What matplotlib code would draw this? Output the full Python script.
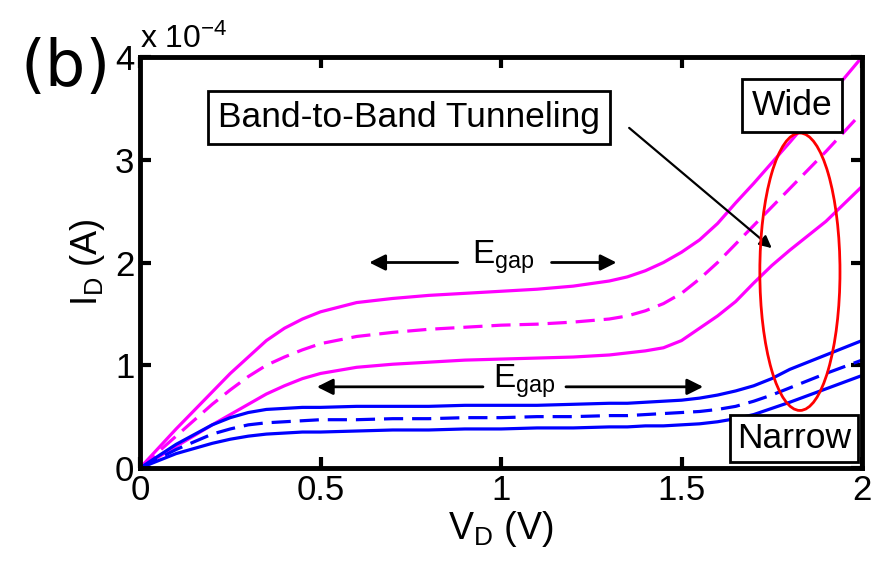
import matplotlib
matplotlib.use('Agg')
import matplotlib.pyplot as plt
from matplotlib import font_manager
from matplotlib.patches import Ellipse

# drain voltage V_D in volts; currents in units of 1e-4 A
vd = [0.0, 0.1, 0.2, 0.25, 0.3, 0.35, 0.4, 0.45, 0.5, 0.6, 0.7, 0.8, 0.9,
      1.0, 1.1, 1.2, 1.3, 1.35, 1.4, 1.45, 1.5, 1.55, 1.6, 1.65, 1.7,
      1.75, 1.8, 1.9, 2.0]

# wide ribbon (magenta)
wide_hi = [0, 0.38, 0.74, 0.92, 1.08, 1.24, 1.36, 1.45, 1.52, 1.61, 1.65,
           1.68, 1.70, 1.72, 1.74, 1.77, 1.82, 1.86, 1.92, 2.00, 2.10, 2.22,
           2.38, 2.58, 2.77, 2.97, 3.17, 3.58, 4.00]
wide_mid = [0, 0.31, 0.62, 0.76, 0.89, 1.00, 1.08, 1.15, 1.21, 1.28, 1.32,
            1.35, 1.37, 1.39, 1.40, 1.42, 1.45, 1.48, 1.53, 1.60, 1.70, 1.84,
            2.00, 2.18, 2.36, 2.54, 2.72, 3.08, 3.46]
wide_lo = [0, 0.21, 0.42, 0.52, 0.62, 0.72, 0.80, 0.87, 0.92, 0.98, 1.01,
           1.03, 1.05, 1.06, 1.07, 1.08, 1.10, 1.12, 1.14, 1.17, 1.24, 1.36,
           1.48, 1.62, 1.80, 1.97, 2.12, 2.40, 2.74]

# narrow ribbon (blue)
narrow_hi = [0, 0.23, 0.42, 0.49, 0.54, 0.57, 0.58, 0.59, 0.59, 0.60, 0.60,
             0.60, 0.61, 0.61, 0.61, 0.62, 0.63, 0.63, 0.64, 0.65, 0.66, 0.68,
             0.71, 0.75, 0.80, 0.87, 0.96, 1.10, 1.24]
narrow_mid = [0, 0.18, 0.33, 0.38, 0.42, 0.44, 0.45, 0.46, 0.47, 0.47, 0.48,
              0.48, 0.49, 0.49, 0.50, 0.50, 0.51, 0.51, 0.52, 0.53, 0.54, 0.55,
              0.57, 0.60, 0.65, 0.71, 0.78, 0.92, 1.05]
narrow_lo = [0, 0.14, 0.24, 0.28, 0.31, 0.33, 0.34, 0.35, 0.35, 0.36, 0.37,
             0.37, 0.38, 0.38, 0.39, 0.39, 0.40, 0.40, 0.41, 0.41, 0.42, 0.43,
             0.45, 0.48, 0.52, 0.58, 0.64, 0.77, 0.90]

xticks = [0, 0.5, 1, 1.5, 2]
xticklabels = ['0', '0.5', '1', '1.5', '2']
yticks = [0, 1, 2, 3, 4]

# fonts
names = {f.name for f in font_manager.fontManager.ttflist}
narrow = 'Liberation Sans Narrow' if 'Liberation Sans Narrow' in names else 'Liberation Sans'
plt.rcParams['font.family'] = 'Liberation Sans'
plt.rcParams['mathtext.default'] = 'regular'

fig = plt.figure(figsize=(8.74, 5.63), dpi=100)
ax = fig.add_axes([140/874, 1-468/563, 722/874, 411/563])

magenta = '#FF00FF'
blue = '#0000FF'
lw = 2.3
dash = (6, 2.8)

ax.plot(vd, wide_hi, color=magenta, lw=lw)
ax.plot(vd, wide_mid, color=magenta, lw=lw, dashes=dash)
ax.plot(vd, wide_lo, color=magenta, lw=lw)
ax.plot(vd, narrow_hi, color=blue, lw=lw)
ax.plot(vd, narrow_mid, color=blue, lw=lw, dashes=dash)
ax.plot(vd, narrow_lo, color=blue, lw=lw)

ax.set_xlim(0, 2)
ax.set_ylim(0, 4)
ax.set_xticks(xticks)
ax.set_xticklabels(xticklabels)
ax.set_yticks(yticks)
ax.tick_params(direction='in', length=8, width=3, top=True, right=True,
               labelsize=25, pad=4)
for lab in ax.get_xticklabels() + ax.get_yticklabels():
    lab.set_family(narrow)
for sp in ax.spines.values():
    sp.set_linewidth(3.5)

ax.set_xlabel('V$_{D}$ (V)', fontsize=27, family=narrow, labelpad=2)
ax.set_ylabel('I$_{D}$ (A)', fontsize=26, family=narrow, labelpad=6)

# exponent marker
ax.text(0.0, 1.005, 'x 10$^{-4}$', transform=ax.transAxes, fontsize=23,
        family=narrow, ha='left', va='bottom')

# panel label
fig.text(66/874, 1-68/563, '(b)', fontsize=46, family='DejaVu Sans',
         ha='center', va='center')

# band-gap arrows
arrow_kw = dict(arrowstyle='-|>', color='k', lw=2, mutation_scale=24,
                shrinkA=0, shrinkB=0)
ax.annotate('', xy=(0.635, 2.0), xytext=(0.88, 2.0), arrowprops=arrow_kw)
ax.annotate('', xy=(1.32, 2.0), xytext=(1.14, 2.0), arrowprops=arrow_kw)
ax.text(1.005, 2.05, 'E$_{gap}$', fontsize=24, ha='center', va='center')

ax.annotate('', xy=(0.49, 0.79), xytext=(0.95, 0.79), arrowprops=arrow_kw)
ax.annotate('', xy=(1.56, 0.79), xytext=(1.18, 0.79), arrowprops=arrow_kw)
ax.text(1.065, 0.84, 'E$_{gap}$', fontsize=24, ha='center', va='center')

# labels with boxes
box = dict(boxstyle='square,pad=0.28', fc='white', ec='black', lw=2)
ax.text(0.745, 3.41, 'Band-to-Band Tunneling', fontsize=25.5, ha='center',
        va='center', bbox=box, zorder=5)
ax.text(1.806, 3.53, 'Wide', fontsize=25.5, ha='center', va='center',
        bbox=box, zorder=5)
ax.text(1.812, 0.29, 'Narrow', fontsize=25.5, ha='center', va='center',
        bbox=dict(boxstyle='square,pad=0.2', fc='white', ec='black', lw=2),
        zorder=5)

ax.annotate('', xy=(1.75, 2.14), xytext=(1.355, 3.31),
            arrowprops=dict(arrowstyle='-|>', color='k', lw=1.6,
                            mutation_scale=18, shrinkA=0, shrinkB=0))

ax.add_patch(Ellipse((1.828, 1.91), 0.222, 2.70, fill=False,
                     ec='#FF0000', lw=2, zorder=4))

fig.savefig('out.png', dpi=100, facecolor='white')
